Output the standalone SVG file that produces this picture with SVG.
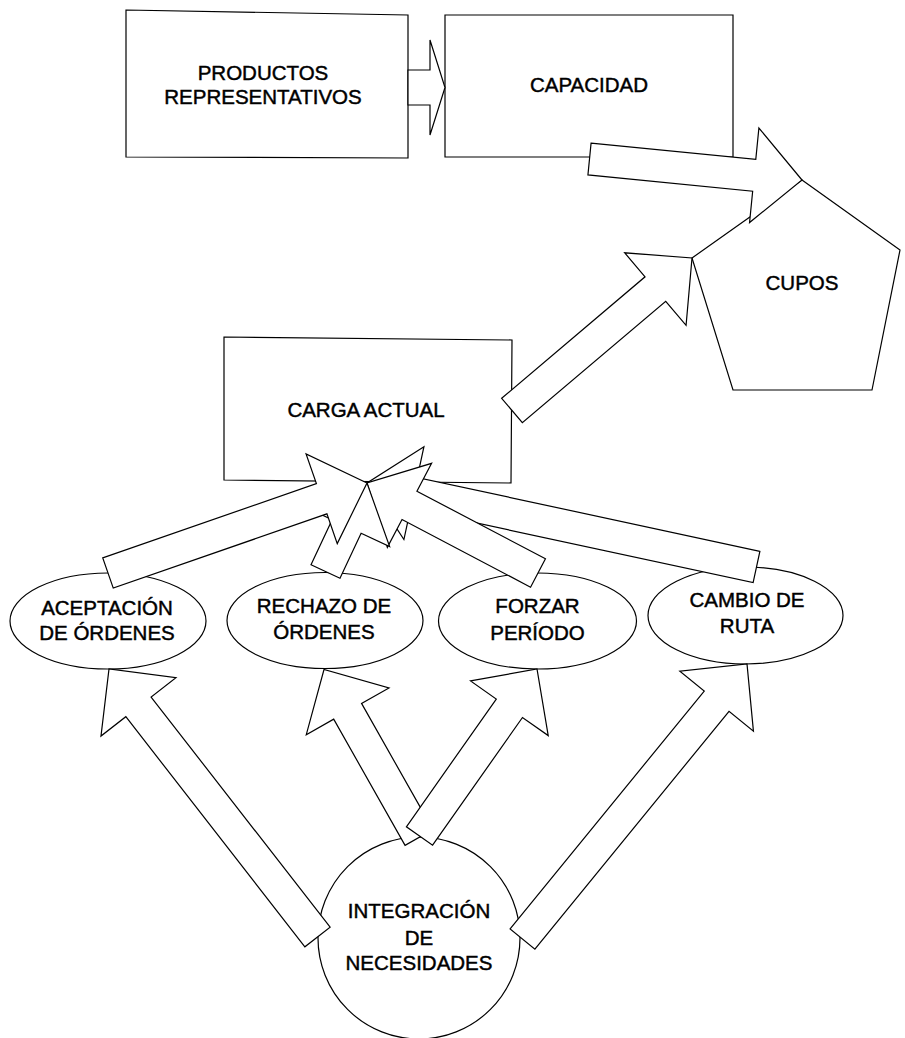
<svg xmlns="http://www.w3.org/2000/svg" width="905" height="1038" viewBox="0 0 905 1038">
  <style>
    .shape { fill: #fff; stroke: #000; stroke-width: 1.2; stroke-linejoin: miter; }
    .arrow { fill: #fff; stroke: #000; stroke-width: 1.2; stroke-linejoin: miter; }
    .label { font-family: "Liberation Sans", Arial, sans-serif; font-size: 20.5px; fill: #000; stroke: #000; stroke-width: 0.45; text-anchor: middle; }
  </style>
  <rect width="905" height="1038" fill="#fff"/>

  <!-- nodes -->
  <g id="productos">
    <polygon class="shape" points="126,10 408,15 408,158 126,157"/>
    <text class="label" x="263" y="80">PRODUCTOS</text>
    <text class="label" x="263" y="104">REPRESENTATIVOS</text>
  </g>
  <g id="capacidad">
    <polygon class="shape" points="445,15 733,15 733,157 445,157"/>
    <text class="label" x="589" y="92">CAPACIDAD</text>
  </g>
  <g id="cupos">
    <polygon class="shape" points="802,180 900,250 872,390 733,390 692,258"/>
    <text class="label" x="802" y="290">CUPOS</text>
  </g>
  <g id="carga-actual">
    <polygon class="shape" points="224,337 512,340 511,483 224,480"/>
    <text class="label" x="366" y="417">CARGA ACTUAL</text>
  </g>
  <g id="aceptacion">
    <ellipse class="shape" cx="108" cy="621" rx="98" ry="48"/>
    <text class="label" x="107" y="615">ACEPTACIÓN</text>
    <text class="label" x="107" y="640">DE ÓRDENES</text>
  </g>
  <g id="rechazo">
    <ellipse class="shape" cx="325" cy="620.5" rx="98" ry="48"/>
    <text class="label" x="324" y="613">RECHAZO DE</text>
    <text class="label" x="324" y="639">ÓRDENES</text>
  </g>
  <g id="forzar">
    <ellipse class="shape" cx="537.5" cy="621" rx="99" ry="48"/>
    <text class="label" x="537.5" y="613">FORZAR</text>
    <text class="label" x="537.5" y="640">PERÍODO</text>
  </g>
  <g id="cambio">
    <ellipse class="shape" cx="745.5" cy="615.5" rx="97.5" ry="48.5"/>
    <text class="label" x="747" y="607">CAMBIO DE</text>
    <text class="label" x="747" y="633">RUTA</text>
  </g>
  <g id="integracion">
    <circle class="shape" cx="419" cy="938" r="101"/>
    <text class="label" x="419" y="918">INTEGRACIÓN</text>
    <text class="label" x="419" y="945">DE</text>
    <text class="label" x="419" y="970">NECESIDADES</text>
  </g>

  <!-- connectors: block arrows, later ones overlap earlier ones -->
  <g id="connectors">
    <!-- productos -> capacidad -->
    <polygon class="arrow" points="408,70 430,70 430,40 445,87.5 430,135 430,105 408,105"/>
    <!-- capacidad -> cupos -->
    <polygon class="arrow" points="591.07,143.08 755.80,159.36 758.90,128.01 802,180 749.56,222.55 752.66,191.20 587.93,174.92"/>
    <!-- carga actual -> cupos -->
    <polygon class="arrow" points="501.66,398.29 645.04,276.82 624.68,252.79 692,258 686.08,325.27 665.72,301.24 522.34,422.71"/>
    <!-- cambio de ruta -> carga actual -->
    <polygon class="arrow" points="759.87,551.36 417.29,477.48 423.93,446.69 367,483 403.91,539.55 410.55,508.76 753.13,582.64"/>
    <!-- forzar periodo -> carga actual -->
    <polygon class="arrow" points="545.45,558.84 416.93,491.19 431.60,463.32 367,483 387.36,547.38 402.03,519.51 530.55,587.16"/>
    <!-- rechazo de ordenes -> carga actual -->
    <polygon class="arrow" points="311.01,564.71 332.13,519.67 303.61,506.29 367,483 389.63,546.63 361.11,533.25 339.99,578.29"/>
    <!-- aceptacion de ordenes -> carga actual -->
    <polygon class="arrow" points="102.75,557.89 316.41,483.64 306.07,453.88 367,483 337.25,543.62 326.91,513.86 113.25,588.11"/>
    <!-- integracion -> aceptacion -->
    <polygon class="arrow" points="304.87,946.82 125.84,716.71 100.98,736.06 109,669 175.96,677.72 151.10,697.07 330.13,927.18"/>
    <!-- integracion -> rechazo -->
    <polygon class="arrow" points="405.07,845.38 333.70,719.16 306.28,734.66 324,669.5 388.98,687.90 361.56,703.40 432.93,829.62"/>
    <!-- integracion -> forzar -->
    <polygon class="arrow" points="406.41,826.79 496.29,699.05 470.53,680.93 537,669 548.23,735.59 522.47,717.47 432.59,845.21"/>
    <!-- integracion -> cambio -->
    <polygon class="arrow" points="510.11,928.88 704.25,691.06 679.85,671.14 747,664 753.43,731.22 729.03,711.30 534.89,949.12"/>
  </g>
</svg>
